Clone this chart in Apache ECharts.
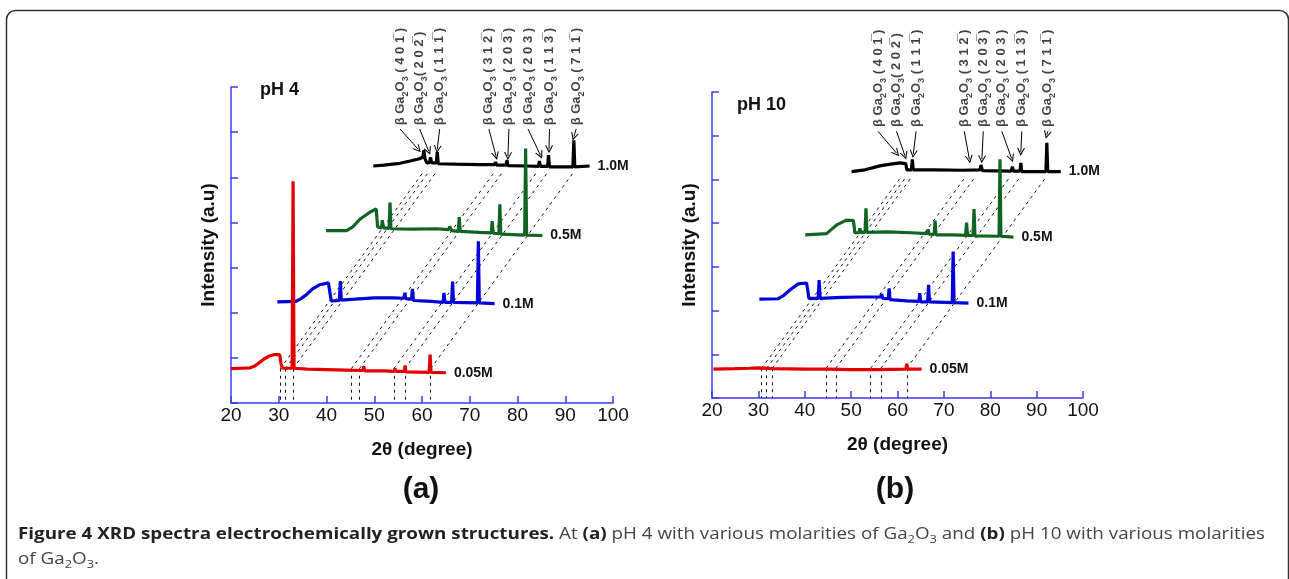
<!DOCTYPE html>
<html><head><meta charset="utf-8">
<script src="https://cdn.jsdelivr.net/npm/echarts@6/dist/echarts.min.js"></script>
<style>html,body{margin:0;padding:0;background:#fff}#c{width:1289px;height:579px}</style>
</head><body><div id="c"></div><script>
// ---------------- DATA ----------------
const X_TICKS = [20, 30, 40, 50, 60, 70, 80, 90, 100];
const TRACE_NAMES = ['1.0M', '0.5M', '0.1M', '0.05M'];
const X_SHIFT = 10; // each molarity trace is displaced by 10 degrees (waterfall)

// Panel (a) pH 4 : [2θ as plotted, intensity offset units]
const A_10 = [[49.8,5.25],[52,5.27],[55.4,5.31],[57.5,5.36],[59.5,5.41],[60.2,5.45],[60.4,5.6],[60.6,5.42],[61.0,5.32],[61.6,5.33],[61.8,5.44],[62.0,5.32],[63.0,5.32],[63.2,5.56],[63.4,5.3],[67,5.29],[72,5.28],[75.2,5.28],[75.4,5.34],[75.6,5.27],[77.6,5.27],[77.8,5.38],[78.0,5.26],[82,5.25],[84.4,5.24],[84.6,5.36],[84.8,5.24],[86.3,5.24],[86.5,5.49],[86.7,5.23],[91.6,5.23],[91.8,5.82],[92.0,5.23],[95.1,5.25]];
const A_05 = [[39.9,3.82],[44.2,3.82],[45.5,3.9],[47,4.07],[49,4.22],[50.4,4.3],[50.7,3.9],[51.5,3.88],[51.7,4.05],[51.9,3.88],[53.1,3.87],[53.3,4.44],[53.5,3.86],[58,3.85],[63,3.86],[65.6,3.84],[65.8,3.91],[66.2,3.82],[67.6,3.8],[67.8,4.12],[68.0,3.8],[72,3.78],[74.5,3.77],[74.7,4.03],[74.9,3.76],[76.1,3.75],[76.3,4.4],[76.5,3.74],[81.5,3.72],[81.7,5.64],[81.9,3.72],[85.2,3.71]];
const A_01 = [[29.7,2.24],[33.5,2.25],[34.5,2.3],[35.8,2.4],[37,2.52],[38.6,2.62],[40.4,2.66],[40.7,2.62],[41.0,2.26],[42.7,2.27],[42.9,2.7],[43.1,2.28],[46,2.3],[50,2.33],[54,2.33],[56.2,2.32],[56.4,2.44],[56.6,2.31],[57.8,2.3],[58.0,2.53],[58.2,2.27],[62,2.25],[64.4,2.23],[64.6,2.44],[64.8,2.23],[66.2,2.23],[66.4,2.69],[66.6,2.23],[71.6,2.22],[71.8,3.58],[72.0,2.22],[75.2,2.2]];
const A_005 = [[20,0.76],[22,0.77],[24,0.78],[25,0.82],[26,0.9],[27,0.98],[28,1.04],[29,1.07],[30.2,1.07],[30.5,0.86],[30.8,0.77],[32.8,0.77],[33.0,4.91],[33.2,0.77],[36,0.75],[40,0.74],[44,0.73],[47.6,0.72],[47.8,0.81],[48.0,0.71],[52,0.71],[54.2,0.7],[54.35,0.77],[54.5,0.7],[56.3,0.7],[56.45,0.83],[56.6,0.69],[61.5,0.68],[61.7,1.07],[61.9,0.68],[65,0.67]];
const A_LINKS = [30.3, 31.4, 33.0, 45.2, 46.9, 54.1, 56.4, 61.8];   // peak positions on 0.05M
const A_LABEL_X = [55.4, 59.5, 63.7, 74.0, 78.2, 82.2, 86.7, 92.3];
const A_TIP_X = [59.2, 61.4, 63.2, 75.5, 78.0, 84.8, 86.6, 91.8];
const A_TIP_Y = [5.62, 5.58, 5.62, 5.47, 5.47, 5.49, 5.62, 5.9];

// Panel (b) pH 10
const B_10 = [[50.1,5.18],[53,5.22],[56.2,5.31],[58.5,5.35],[60.5,5.38],[61.8,5.36],[62.0,5.22],[63.0,5.22],[63.2,5.46],[63.4,5.22],[68,5.22],[74,5.21],[77.8,5.22],[78.0,5.33],[78.3,5.2],[84.5,5.19],[84.8,5.29],[85.0,5.19],[86.4,5.19],[86.6,5.38],[86.8,5.18],[92.0,5.18],[92.2,5.84],[92.4,5.18],[95.2,5.18]];
const B_05 = [[40.1,3.73],[44.7,3.76],[46.9,3.96],[49.0,4.07],[50.5,4.06],[50.8,3.78],[51.7,3.78],[51.9,3.88],[52.1,3.78],[53.0,3.79],[53.2,4.34],[53.4,3.79],[58,3.8],[63,3.78],[66.4,3.76],[66.6,3.86],[66.8,3.75],[67.9,3.74],[68.1,4.06],[68.3,3.73],[72,3.73],[74.7,3.72],[74.9,4.01],[75.1,3.72],[76.3,3.72],[76.5,4.32],[76.7,3.71],[81.9,3.7],[82.1,5.46],[82.3,3.7],[85.0,3.68]];
const B_01 = [[30.2,2.26],[34.2,2.27],[35.5,2.35],[36.8,2.47],[38.6,2.61],[40.4,2.63],[40.7,2.6],[40.9,2.28],[42.9,2.28],[43.1,2.7],[43.3,2.28],[48,2.3],[52,2.31],[56.4,2.31],[56.6,2.38],[56.8,2.28],[58.0,2.27],[58.2,2.51],[58.4,2.25],[62,2.22],[64.6,2.21],[64.8,2.4],[65.0,2.2],[66.5,2.2],[66.7,2.59],[66.9,2.2],[71.8,2.18],[72.0,3.35],[72.2,2.18],[75.3,2.17]];
const B_005 = [[20.3,0.66],[25,0.67],[28,0.68],[30,0.69],[33,0.67],[40,0.66],[45,0.66],[50,0.65],[55,0.65],[61.8,0.66],[62.0,0.78],[62.2,0.66],[65.2,0.66]];
const B_LINKS = [30.7, 31.8, 33.0, 44.6, 46.7, 54.2, 56.4, 62.0];
const B_LABEL_X = [55.8, 59.8, 64.0, 74.4, 78.5, 82.5, 86.8, 92.4];
const B_TIP_X = [59.8, 61.6, 63.4, 75.5, 78.2, 84.6, 86.6, 92.2];
const B_TIP_Y = [5.6, 5.54, 5.58, 5.46, 5.46, 5.48, 5.63, 6.02];

const PEAK_HKL = [' ( 4 0 1\u0305 )', '( 2 0 2\u0305 )', ' ( 1 1 1\u0305 )', ' ( 3 1 2\u0305 )', ' ( 2 0 3\u0305 )', ' ( 2 0 3 )', ' ( 1 1 3\u0305 )', ' ( 7 1 1\u0305 )'];

// ---------------- CHART ----------------
const FONT = 'Liberation Sans';
const AXIS_BLUE = '#3b3bf2';
const COLORS = {'1.0M': '#000000', '0.5M': '#106421', '0.1M': '#0000d8', '0.05M': '#e30000'};

const panels = [
  {traces: [A_10, A_05, A_01, A_005], links: A_LINKS, linkY0: 0.76, linkY1: 5.12, labelX: A_LABEL_X, labelY: 6.15, tailY: 6.07, tipX: A_TIP_X, tipY: A_TIP_Y,
   grid: {left: 231, top: 87, width: 382, height: 316}},
  {traces: [B_10, B_05, B_01, B_005], links: B_LINKS, linkY0: 0.68, linkY1: 5.05, labelX: B_LABEL_X, labelY: 6.2, tailY: 6.1, tipX: B_TIP_X, tipY: B_TIP_Y,
   grid: {left: 712, top: 92, width: 371, height: 306}}
];

const chart = echarts.init(document.getElementById('c'), null, {renderer: 'canvas'});

const grids = [], xAxes = [], yAxes = [], series = [];
panels.forEach((p, i) => {
  grids.push(p.grid);
  xAxes.push({
    gridIndex: i, type: 'value', min: X_TICKS[0], max: X_TICKS[X_TICKS.length - 1], interval: X_TICKS[1] - X_TICKS[0],
    axisLine: {show: true, onZero: false, lineStyle: {color: AXIS_BLUE, width: 1.5}},
    axisTick: {show: true, inside: true, length: 7, lineStyle: {color: AXIS_BLUE, width: 1.5}},
    axisLabel: {color: '#111', fontSize: 19, margin: 3, fontFamily: FONT},
    splitLine: {show: false},
    name: '2\u03b8 (degree)', nameLocation: 'middle', nameGap: 37,
    nameTextStyle: {fontSize: 19, fontWeight: 'bold', color: '#111', fontFamily: FONT}
  });
  yAxes.push({
    gridIndex: i, type: 'value', min: 0, max: 7, interval: 1,
    axisLine: {show: true, lineStyle: {color: AXIS_BLUE, width: 1.5}},
    axisTick: {show: true, inside: true, length: 7, lineStyle: {color: AXIS_BLUE, width: 1.5}},
    axisLabel: {show: false}, splitLine: {show: false},
    name: 'Intensity (a.u)', nameLocation: 'middle', nameGap: 13, nameRotate: 90,
    nameTextStyle: {fontSize: 19, fontWeight: 'bold', color: '#111', fontFamily: FONT}
  });

  // dashed connectors (vertical drops + diagonal waterfall links)
  const dash = [];
  p.links.forEach(x0 => {
    dash.push({coords: [[x0, p.linkY0], [x0, 0]]});
    dash.push({coords: [[x0, p.linkY0], [x0 + 3 * X_SHIFT, p.linkY1]]});
  });
  series.push({type: 'lines', coordinateSystem: 'cartesian2d', xAxisIndex: i, yAxisIndex: i, polyline: false, silent: true,
    symbol: 'none', lineStyle: {color: '#111', width: 1, type: [3, 4], opacity: 1, curveness: 0}, data: dash, z: 1, animation: false});

  // traces
  p.traces.forEach((tr, k) => {
    const name = TRACE_NAMES[k];
    series.push({type: 'line', name: name, xAxisIndex: i, yAxisIndex: i, data: tr, showSymbol: false, symbol: 'none',
      lineStyle: {color: COLORS[name], width: 3.2}, itemStyle: {color: COLORS[name]}, z: 3 + k, animation: false,
      endLabel: {show: true, formatter: name, distance: 8, fontSize: 14, fontWeight: 'bold', color: '#111', fontFamily: FONT}});
  });

  // arrows
  series.push({type: 'lines', coordinateSystem: 'cartesian2d', xAxisIndex: i, yAxisIndex: i, polyline: false, silent: true,
    symbol: ['none', 'path://M0,10 L5,0 L10,10 L8.6,10 L5,3 L1.4,10 Z'], symbolSize: 8,
    lineStyle: {color: '#000', width: 1, opacity: 1},
    data: p.labelX.map((x, j) => ({coords: [[x, p.tailY], [p.tipX[j], p.tipY[j]]]})), z: 10, animation: false});

  // peak labels
  series.push({type: 'scatter', xAxisIndex: i, yAxisIndex: i, symbolSize: 0, silent: true, z: 11, animation: false,
    data: p.labelX.map((x, j) => ({value: [x, p.labelY],
      label: {formatter: '{t|\u03b2 Ga}{s|2}{t|O}{s|3}{t|' + PEAK_HKL[j] + '}'}})),
    label: {show: true, position: [0, 0], rotate: 90, align: 'left', verticalAlign: 'middle',
      rich: {t: {fontSize: 13, fontWeight: 'bold', color: '#111', fontFamily: FONT, lineHeight: 19, verticalAlign: 'middle'},
             s: {fontSize: 9, fontWeight: 'bold', color: '#111', fontFamily: FONT, lineHeight: 10, verticalAlign: 'bottom'}}}});
});

// caption measurement to condense Open Sans like the original
function mw(font, s) { const c = document.createElement('canvas').getContext('2d'); c.font = font; return c.measureText(s).width; }
const CB = 'bold 16px "Open Sans"', CR = '16px "Open Sans"', CS = '11px "Open Sans"';
const line1W = mw(CB, 'Figure 4 XRD spectra electrochemically grown structures.') + mw(CR, ' At ') + mw(CB, '(a)') +
  mw(CR, ' pH 4 with various molarities of Ga') + mw(CS, '2') + mw(CR, 'O') + mw(CS, '3') + mw(CR, ' and ') + mw(CB, '(b)') +
  mw(CR, ' pH 10 with various molarities');
const capScale = 1247 / line1W;
const capRich = {
  b: {font: CB, fill: '#222', lineHeight: 22, verticalAlign: 'middle'},
  r: {font: CR, fill: '#444', lineHeight: 22, verticalAlign: 'middle'},
  s: {font: CS, fill: '#444', lineHeight: 15, verticalAlign: 'bottom'}
};

chart.setOption({
  animation: false,
  backgroundColor: '#fff',
  grid: grids, xAxis: xAxes, yAxis: yAxes, series: series,
  graphic: [
    {type: 'rect', shape: {x: 6.5, y: 10.5, width: 1282, height: 700, r: 9}, style: {fill: 'none', stroke: '#333', lineWidth: 1.5}, silent: true},
    {type: 'text', left: 260, top: 81, style: {text: 'pH 4', font: 'bold 18px ' + FONT, fill: '#111'}},
    {type: 'text', left: 737, top: 96, style: {text: 'pH 10', font: 'bold 18px ' + FONT, fill: '#111'}},
    {type: 'text', x: 421, y: 490, style: {text: '(a)', font: 'bold 30px ' + FONT, fill: '#111', align: 'center', verticalAlign: 'middle'}},
    {type: 'text', x: 895, y: 490, style: {text: '(b)', font: 'bold 30px ' + FONT, fill: '#111', align: 'center', verticalAlign: 'middle'}},
    {type: 'text', x: 18, y: 534, scaleX: capScale, style: {
      text: '{b|Figure 4 XRD spectra electrochemically grown structures.}{r| At }{b|(a)}{r| pH 4 with various molarities of Ga}{s|2}{r|O}{s|3}{r| and }{b|(b)}{r| pH 10 with various molarities}',
      rich: capRich, verticalAlign: 'middle'}},
    {type: 'text', x: 18, y: 559, scaleX: capScale, style: {
      text: '{r|of Ga}{s|2}{r|O}{s|3}{r|.}', rich: capRich, verticalAlign: 'middle'}}
  ]
});
</script></body></html>
